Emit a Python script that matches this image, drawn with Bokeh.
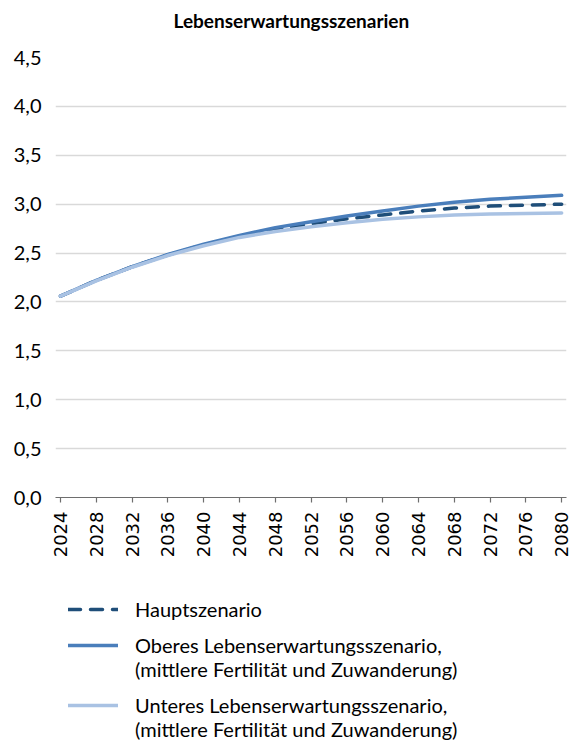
import math
from bokeh.plotting import figure
from bokeh.layouts import column
from bokeh.models import FixedTicker, Legend, LegendItem, Range1d, Title
from bokeh.embed import file_html
from bokeh.resources import INLINE

# ---- data ----
years = [2024, 2028, 2032, 2036, 2040, 2044, 2048, 2052, 2056, 2060, 2064, 2068, 2072, 2076, 2080]
haupt = [2.06, 2.22, 2.36, 2.48, 2.585, 2.67, 2.74, 2.80, 2.85, 2.89, 2.93, 2.96, 2.98, 2.99, 3.00]
oberes = [2.06, 2.22, 2.36, 2.485, 2.59, 2.68, 2.76, 2.82, 2.88, 2.93, 2.98, 3.02, 3.05, 3.07, 3.09]
unteres = [2.06, 2.215, 2.355, 2.475, 2.575, 2.66, 2.72, 2.77, 2.81, 2.845, 2.87, 2.89, 2.90, 2.905, 2.91]

y_ticks = [0.0, 0.5, 1.0, 1.5, 2.0, 2.5, 3.0, 3.5, 4.0, 4.5]
y_labels = ["0,0", "0,5", "1,0", "1,5", "2,0", "2,5", "3,0", "3,5", "4,0", "4,5"]
x_ticks = years
title_text = "Lebenserwartungsszenarien"
legend_haupt = "Hauptszenario"
legend_ober = "Oberes Lebenserwartungsszenario,"
legend_unter = "Unteres Lebenserwartungsszenario,"
legend_sub = "(mittlere Fertilität und Zuwanderung)"

C_HAUPT = "#1f4e79"
C_OBER = "#4a7ebb"
C_UNTER = "#a9c2e3"

# ---- chart figure ----
p = figure(width=579, height=560, output_backend="svg", toolbar_location=None,
           x_range=Range1d(2023.44, 2080.54), y_range=Range1d(0, 4.5),
           min_border_left=55, min_border_right=13, min_border_top=57,
           min_border_bottom=63)
p.outline_line_color = None
p.background_fill_color = "white"
p.border_fill_color = "white"

# empty spacer between frame and title (pushes the title up)
p.add_layout(Title(text=" ", text_font_size="10px", standoff=13), "above")

p.title.text = title_text
p.title.align = "left"
p.title.offset = 118
p.title.vertical_align = "bottom"
p.title.text_font = "Lato"
p.title.text_font_style = "bold"
p.title.text_font_size = "19px"
p.title.text_color = "#000000"
p.title.standoff = 0

# grid
p.xgrid.grid_line_color = None
p.ygrid.ticker = FixedTicker(ticks=y_ticks)
p.ygrid.grid_line_color = "#d9d9d9"
p.ygrid.grid_line_width = 1.3

# y axis
p.yaxis.ticker = FixedTicker(ticks=y_ticks)
p.yaxis.major_label_overrides = {t: l for t, l in zip(y_ticks, y_labels)}
p.yaxis.axis_line_color = None
p.yaxis.major_tick_line_color = None
p.yaxis.minor_tick_line_color = None
p.yaxis.major_label_standoff = 8
p.yaxis.major_label_text_font = "Lato"
p.yaxis.major_label_text_font_size = "20px"
p.yaxis.major_label_text_color = "#000000"

# x axis
p.xaxis.ticker = FixedTicker(ticks=x_ticks)
p.xaxis.major_label_overrides = {t: str(t) for t in x_ticks}
p.xaxis.axis_line_color = "#6e6e6e"
p.xaxis.axis_line_width = 1.2
p.xaxis.major_tick_line_color = "#6e6e6e"
p.xaxis.major_tick_line_width = 1.2
p.xaxis.major_tick_out = 5
p.xaxis.major_tick_in = 0
p.xaxis.minor_tick_line_color = None
p.xaxis.major_label_orientation = math.pi / 2
p.xaxis.major_label_standoff = 9
p.xaxis.major_label_text_font = "DejaVu Sans"
p.xaxis.major_label_text_font_size = "18px"
p.xaxis.major_label_text_color = "#000000"

# lines (dashed first, light line on top, as in the reference)
p.line(years, haupt, line_color=C_HAUPT, line_width=3.5, line_dash="12 10",
       line_cap="round", line_join="round")
p.line(years, oberes, line_color=C_OBER, line_width=3.5, line_cap="round", line_join="round")
p.line(years, unteres, line_color=C_UNTER, line_width=3.5, line_cap="round", line_join="round")

# ---- legend figure (same series, outside its visible range; only the legends show) ----
p2 = figure(width=579, height=182, output_backend="svg", toolbar_location=None,
            x_axis_type=None, y_axis_type=None, x_range=Range1d(0, 1), y_range=Range1d(0, 1),
            min_border=0)
p2.outline_line_color = None
p2.xgrid.grid_line_color = None
p2.ygrid.grid_line_color = None
l_h = p2.line(years, haupt, line_color=C_HAUPT, line_width=3.5, line_dash="12 10", line_cap="round")
l_o = p2.line(years, oberes, line_color=C_OBER, line_width=3.5, line_cap="round")
l_u = p2.line(years, unteres, line_color=C_UNTER, line_width=3.5, line_cap="round")
l_blank = p2.line(years, haupt, line_alpha=0)


def make_legend(items, loc):
    lg = Legend(items=items, location=loc)
    lg.padding = 0
    lg.margin = 0
    lg.spacing = 0
    lg.glyph_width = 50
    lg.glyph_height = 24
    lg.label_height = 24
    lg.label_standoff = 17
    lg.label_text_font = "Lato"
    lg.label_text_font_size = "20px"
    lg.label_text_color = "#000000"
    lg.border_line_color = None
    lg.background_fill_alpha = 0
    return lg


p2.add_layout(make_legend([LegendItem(label=legend_haupt, renderers=[l_h])], (13, 121)), "center")
p2.add_layout(make_legend([LegendItem(label=legend_ober, renderers=[l_o]),
                           LegendItem(label=legend_sub, renderers=[l_blank])], (13, 61)), "center")
p2.add_layout(make_legend([LegendItem(label=legend_unter, renderers=[l_u]),
                           LegendItem(label=legend_sub, renderers=[l_blank])], (13, 1)), "center")

layout = column(p, p2, spacing=0)
open("out.html", "w").write(file_html(layout, INLINE))
